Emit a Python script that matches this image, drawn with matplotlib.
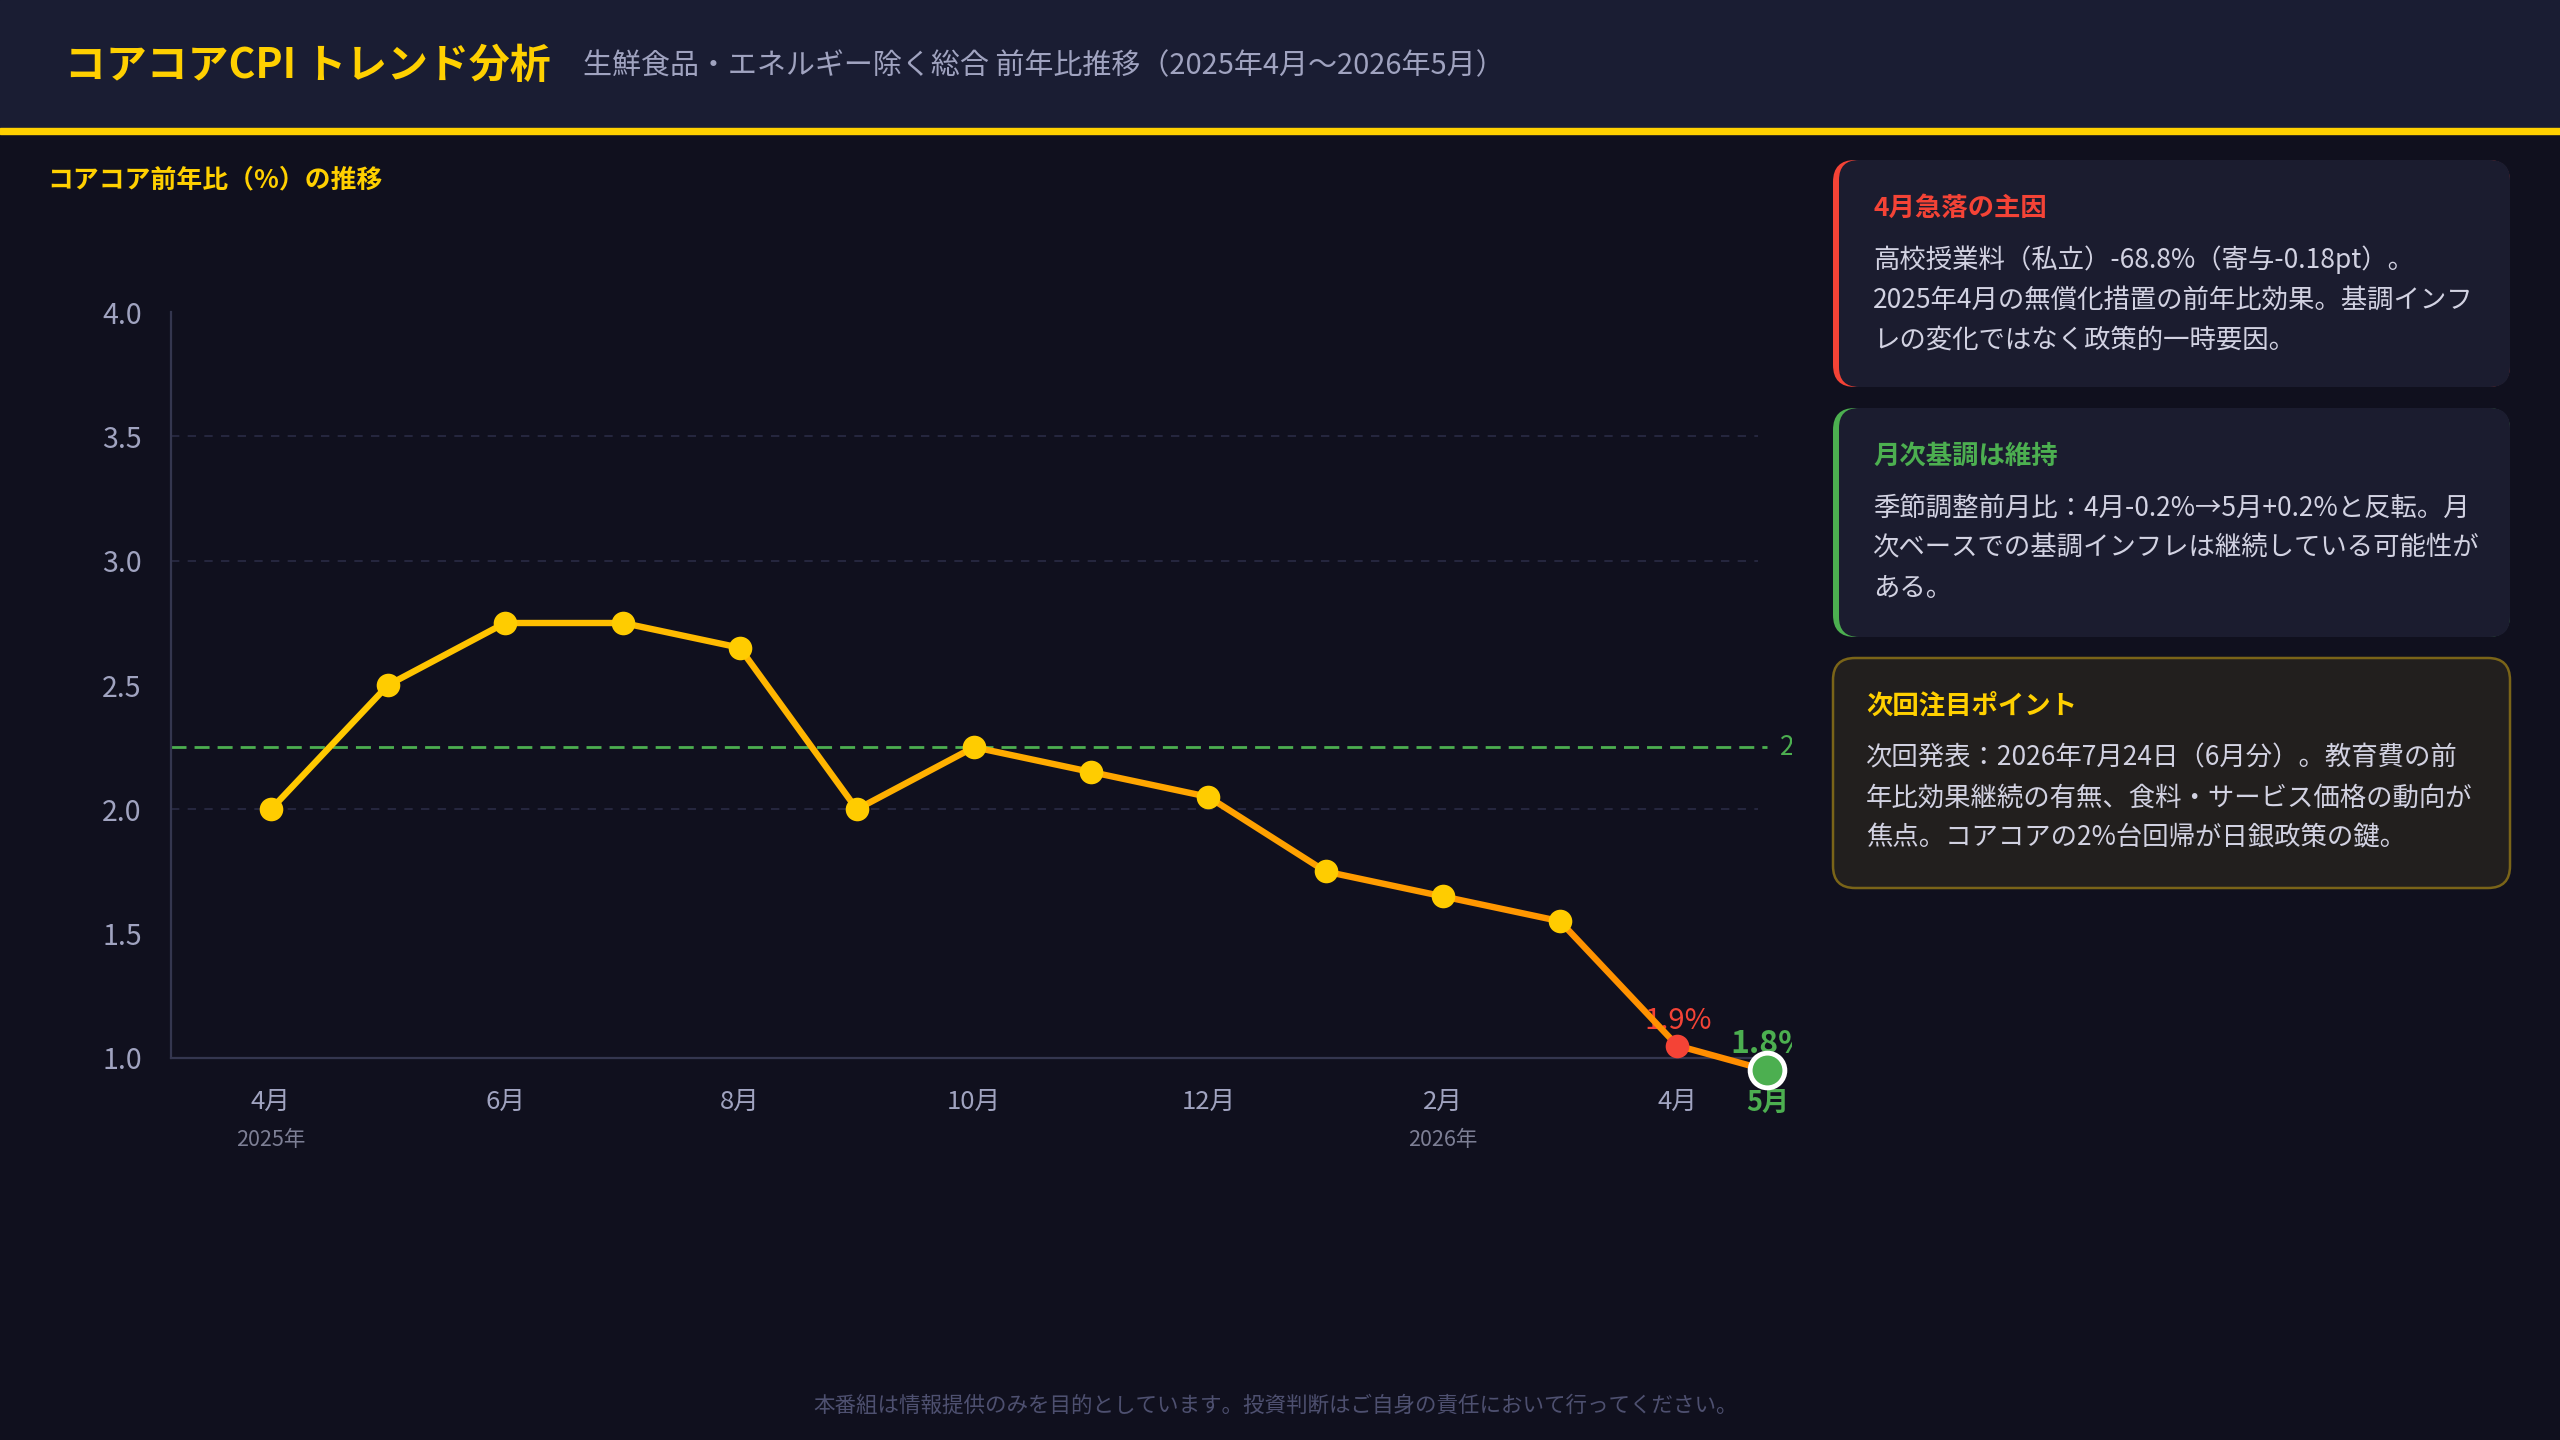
import numpy as np
import matplotlib.pyplot as plt
from matplotlib.patches import Rectangle, FancyBboxPatch
from matplotlib.collections import LineCollection
from matplotlib.colors import to_rgb

plt.rcParams['font.family'] = ['Noto Sans CJK JP', 'DejaVu Sans']

# ---- data ----
months = ['4月', '5月', '6月', '7月', '8月', '9月', '10月', '11月', '12月',
          '1月', '2月', '3月', '4月', '5月']
x_pos = [0, 1, 2, 3, 4, 5, 6, 7, 8, 9, 10, 11, 12, 12.77]
yoy = [2.0, 2.5, 2.75, 2.75, 2.65, 2.0, 2.25, 2.15, 2.05, 1.75, 1.65, 1.55, 1.05, 0.95]
target = 2.25
grid_vals = [2.0, 3.0, 3.5]
yticks = [1.0, 1.5, 2.0, 2.5, 3.0, 3.5, 4.0]
tick_idx = [0, 2, 4, 6, 8, 10, 12, 13]
years = {0: '2025年', 10: '2026年'}

BG = '#10101e'
YEL = '#FFCC00'
ORG = '#FF8C00'
RED = '#F44336'
GRN = '#4CAF50'
LAV = '#a0a3c0'

fig = plt.figure(figsize=(25.6, 14.4), dpi=100, facecolor=BG)

# background / layout layer in pixel units
bg = fig.add_axes([0, 0, 1, 1], zorder=0)
bg.set_xlim(0, 2560)
bg.set_ylim(1440, 0)
bg.axis('off')
bg.add_patch(Rectangle((0, 0), 2560, 128, color='#1a1d33'))
bg.add_patch(Rectangle((0, 128), 2560, 6, color='#FFD000'))
bg.text(65, 66, 'コアコアCPI トレンド分析', color='#FFD000', fontsize=29.4,
        fontweight='bold', va='center')
bg.text(583, 66, '生鮮食品・エネルギー除く総合 前年比推移（2025年4月〜2026年5月）',
        color=LAV, fontsize=20.9, va='center')
bg.text(47, 180, 'コアコア前年比（%）の推移', color='#FFD000', fontsize=18.6,
        fontweight='bold', va='center')
bg.text(1276, 1406, '本番組は情報提供のみを目的としています。投資判断はご自身の責任において行ってください。',
        color='#4e5070', fontsize=15.5, ha='center', va='center')

# cards
def card(top, bottom, accent, title, lines, tcolor, boxed=False):
    x0, x1 = 1833, 2510
    if boxed:
        bg.add_patch(FancyBboxPatch((x0, top), x1 - x0, bottom - top,
                                    boxstyle='round,pad=0,rounding_size=22',
                                    fc='#221f1e', ec='#7a6418', lw=1.8))
        tx = 1866
    else:
        bg.add_patch(FancyBboxPatch((x0, top), x1 - x0, bottom - top,
                                    boxstyle='round,pad=0,rounding_size=22',
                                    fc=accent, ec='none'))
        bg.add_patch(FancyBboxPatch((x0 + 6, top), x1 - x0 - 6, bottom - top,
                                    boxstyle='round,pad=0,rounding_size=20',
                                    fc='#1b1c2f', ec='none'))
        tx = 1873
    bg.text(tx, top + 48, title, color=tcolor, fontsize=19, fontweight='bold', va='center')
    for i, ln in enumerate(lines):
        bg.text(tx, top + 100 + 40 * i, ln, color='#d2d2e2', fontsize=19, va='center')

card(160, 387, RED, '4月急落の主因',
     ['高校授業料（私立）-68.8%（寄与-0.18pt）。',
      '2025年4月の無償化措置の前年比効果。基調インフ',
      'レの変化ではなく政策的一時要因。'], RED)
card(408, 637, GRN, '月次基調は維持',
     ['季節調整前月比：4月-0.2%→5月+0.2%と反転。月',
      '次ベースでの基調インフレは継続している可能性が',
      'ある。'], GRN)
card(658, 888, None, '次回注目ポイント',
     ['次回発表：2026年7月24日（6月分）。教育費の前',
      '年比効果継続の有無、食料・サービス価格の動向が',
      '焦点。コアコアの2%台回帰が日銀政策の鍵。'], '#FFD000', boxed=True)

# chart
ax = fig.add_axes([0.0668, 0.2653, 0.6332, 0.518], zorder=1)
ax.set_facecolor('none')
xl, xr = -0.853, 12.98
ax.set_xlim(xl, xr)
ax.set_ylim(1.0, 4.0)
for s in ['top', 'right']:
    ax.spines[s].set_visible(False)
ax.spines['left'].set_color('#34364f')
ax.spines['bottom'].set_color('#34364f')
ax.spines['left'].set_linewidth(1.6)
ax.spines['bottom'].set_linewidth(1.6)
ax.spines['bottom'].set_bounds(xl, 12.69)

ax.hlines(grid_vals, xl, 12.69, colors='#2a2b45', lw=1.2, linestyles=(0, (5, 5)), zorder=1)
ax.hlines(target, xl, 12.77, colors=GRN, lw=2, linestyles=(0, (5.4, 2.9)), zorder=2)
ax.text(12.88, target, '2%目標', color=GRN, fontsize=19, va='center', clip_on=True)

ax.set_yticks(yticks)
ax.set_yticklabels([f'{v:.1f}' for v in yticks])
ax.tick_params(axis='y', length=0, pad=21, labelsize=20.5, labelcolor=LAV)
ax.set_xticks([x_pos[i] for i in tick_idx])
ax.set_xticklabels([months[i] for i in tick_idx])
ax.tick_params(axis='x', length=0, pad=22, labelsize=18.5, labelcolor=LAV)
last = ax.get_xticklabels()[-1]
last.set_color(GRN)
last.set_fontweight('bold')
last.set_fontsize(19.5)

for i, yr in years.items():
    ax.annotate(yr, xy=(x_pos[i], 0), xycoords=('data', 'axes fraction'),
                xytext=(0, -59), textcoords='offset points', ha='center', va='center',
                color='#7d7f95', fontsize=15.5, annotation_clip=False)

# labels for last two points (under the line)
ax.annotate('1.9%', xy=(x_pos[12], yoy[12]), xytext=(1, 18), textcoords='offset points',
            ha='center', va='center', color=RED, fontsize=21, zorder=2, annotation_clip=False)
ax.annotate('1.8%', xy=(x_pos[13], yoy[13]), xytext=(-27, 19), textcoords='offset points',
            ha='left', va='center', color=GRN, fontsize=23, fontweight='bold', zorder=2,
            annotation_clip=False, clip_on=True)

# gradient line
pts = np.column_stack([x_pos, yoy])
segs = np.stack([pts[:-1], pts[1:]], axis=1)
c0, c1 = np.array(to_rgb(YEL)), np.array(to_rgb(ORG))
mid = (np.array(x_pos[:-1]) + np.array(x_pos[1:])) / 2 / x_pos[-1]
cols = [c0 + (c1 - c0) * t for t in mid]
lc = LineCollection(segs, colors=cols, linewidths=4.6, capstyle='round', joinstyle='round',
                    zorder=3, clip_on=False)
ax.add_collection(lc)

ax.plot(x_pos[:12], yoy[:12], 'o', color=YEL, ms=17, mew=0, zorder=4, clip_on=False)
ax.plot(x_pos[12], yoy[12], 'o', color=RED, ms=17, mew=0, zorder=4, clip_on=False)
ax.plot(x_pos[13], yoy[13], 'o', color=GRN, ms=25, mec='white', mew=3.5, zorder=5, clip_on=False)

fig.savefig('out.png', dpi=100, facecolor=BG)
